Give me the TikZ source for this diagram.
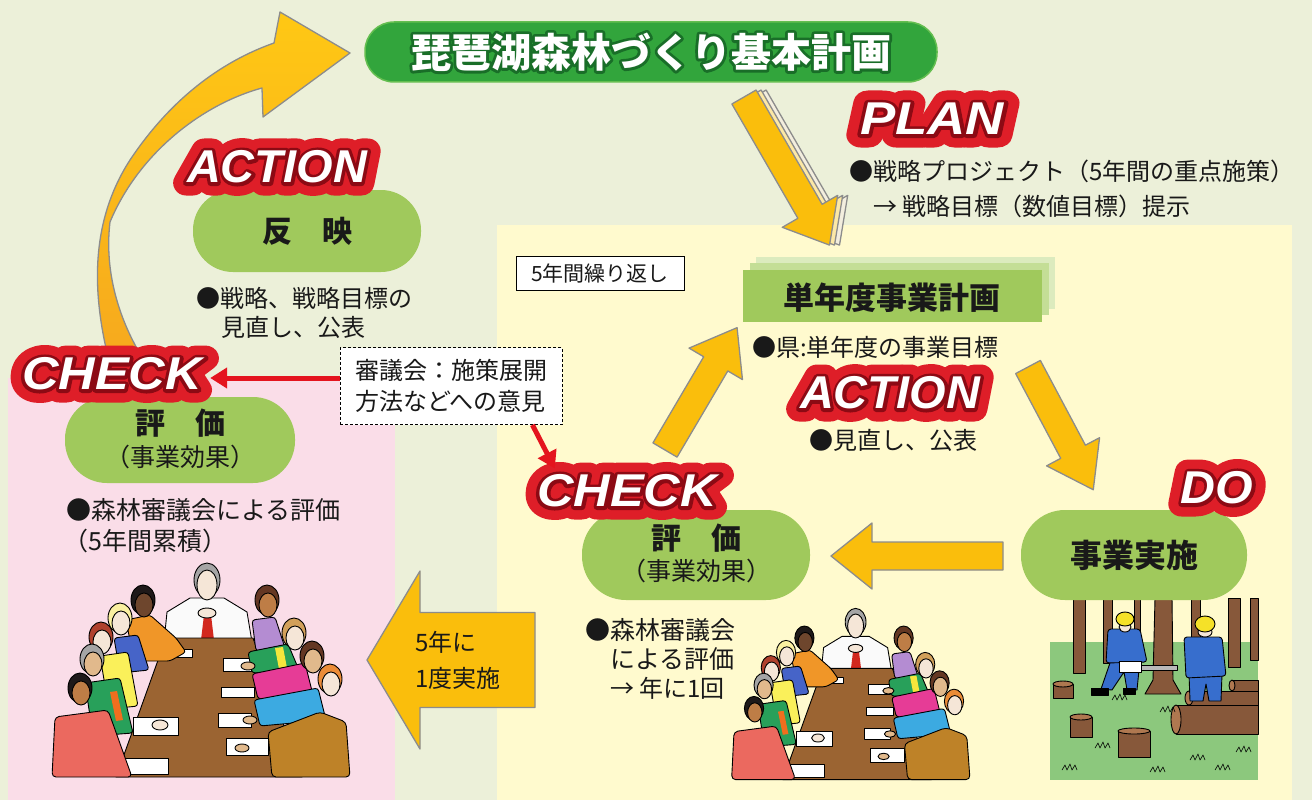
\documentclass[tikz,border=0pt]{standalone}
\usepackage{fontspec}
\setmainfont{Noto Sans CJK JP}
\newfontfamily\jpRing{Noto Sans CJK JP}[BoldFeatures={FakeBold=14}]
\newfontfamily\pdcaRing{Liberation Sans}[BoldItalicFeatures={FakeBold=55}]
\newfontfamily\pdcaEdge{Liberation Sans}[BoldItalicFeatures={FakeBold=14}]
\newfontfamily\pdcaFace{Liberation Sans}
\usetikzlibrary{arrows.meta}

% round joins for the stroked (fake bold) lettering
\newcommand{\roundstroke}{\special{pdf:literal direct 1 j 1 J}}

% page and panel colours
\definecolor{bgcol}{RGB}{236,240,217}
\definecolor{pinkcol}{RGB}{250,221,232}
\definecolor{yelcol}{RGB}{255,250,206}
\definecolor{pillcol}{RGB}{160,201,92}
\definecolor{titlecol}{RGB}{50,165,60}
\definecolor{titleedge}{RGB}{100,190,80}
\definecolor{titlering}{RGB}{25,110,40}
\definecolor{arrowfill}{RGB}{250,190,12}
\definecolor{arrowedge}{RGB}{140,140,140}
\definecolor{planmid}{RGB}{252,232,165}
\definecolor{planback}{RGB}{243,238,222}
\definecolor{pdcared}{RGB}{222,30,40}
\definecolor{pdcadark}{RGB}{140,10,20}
\definecolor{redline}{RGB}{228,20,30}
\definecolor{inkcol}{RGB}{25,25,25}
\definecolor{layermid}{RGB}{196,222,150}
\definecolor{layerback}{RGB}{220,235,190}
% clip-art colours
\definecolor{tablebrown}{RGB}{155,100,50}
\definecolor{shirtwhite}{RGB}{250,250,250}
\definecolor{tiered}{RGB}{210,40,30}
\definecolor{skinpale}{RGB}{245,230,215}
\definecolor{skintan}{RGB}{225,185,140}
\definecolor{skinbrown}{RGB}{190,125,70}
\definecolor{skindark}{RGB}{110,70,45}
\definecolor{hairblack}{RGB}{30,25,25}
\definecolor{hairblond}{RGB}{250,240,160}
\definecolor{hairred}{RGB}{175,65,45}
\definecolor{hairgray}{RGB}{165,165,165}
\definecolor{hairbrown}{RGB}{100,55,35}
\definecolor{hairsand}{RGB}{210,160,90}
\definecolor{hairorange}{RGB}{235,140,55}
\definecolor{coatorange}{RGB}{240,150,40}
\definecolor{coatblue}{RGB}{70,100,200}
\definecolor{coatyellow}{RGB}{250,240,90}
\definecolor{coatgreen}{RGB}{40,160,90}
\definecolor{coatsalmon}{RGB}{235,105,95}
\definecolor{coatpurple}{RGB}{180,140,210}
\definecolor{coatpink}{RGB}{230,60,150}
\definecolor{coatsky}{RGB}{60,170,225}
\definecolor{coatochre}{RGB}{190,130,40}
\definecolor{tieorange}{RGB}{240,110,30}
\definecolor{tieyellow}{RGB}{245,230,60}
\definecolor{grass}{RGB}{140,200,125}
\definecolor{trunk}{RGB}{135,88,58}
\definecolor{trunktop}{RGB}{175,120,80}
\definecolor{workblue}{RGB}{55,110,205}
\definecolor{helmet}{RGB}{245,225,40}

% a straight block arrow: start, angle, length, shaft half width, head half width, head length
\newcommand{\blockarrowshape}[7][]{%
  \begin{scope}[shift={#2},rotate=#3]
    \draw[blockarrow,#1] (0,-#5) -- ({#4-#7},-#5) -- ({#4-#7},-#6) -- (#4,0)
      -- ({#4-#7},#6) -- ({#4-#7},#5) -- (0,#5) -- cycle;
  \end{scope}}

% a seated person's head: x, y, hair colour, skin colour
\newcommand{\personhead}[4]{%
  \draw[ink, fill=#3] (#1,#2-2) ellipse [x radius=12pt, y radius=15pt];
  \draw[ink, fill=#4] (#1+1,#2+3) ellipse [x radius=9pt, y radius=12pt];}

% outlined lettering for the PDCA words: name, position, text, horizontal stretch
\newcommand{\pdcalabel}[4]{%
  \node[pdcaring, xscale=#4] (#1-ring) at #2 {#3};
  \node[pdcaedge, xscale=#4] (#1-edge) at #2 {#3};
  \node[pdcaface, xscale=#4] (#1) at #2 {#3};}

% committee meeting around a long table, in its own local frame
\newcommand{\meetingscene}{%
  % chairman at the head of the table
  \draw[ink, fill=shirtwhite] (144,82) -- (147,52) -- (170,38) -- (204,38) -- (227,52) -- (232,82) -- cycle;
  \fill[tiered] (184,55) -- (191,55) -- (194,80) -- (181,80) -- cycle;
  \draw[ink, fill=hairgray] (187,20) ellipse [x radius=13pt, y radius=17pt];
  \draw[ink, fill=skinpale] (187,25) ellipse [x radius=10pt, y radius=15pt];
  \draw[ink, fill=skinpale] (187,53) ellipse [x radius=9pt, y radius=5pt];
  % table
  \draw[ink, fill=tablebrown] (146,78) -- (233,78) -- (282,217) -- (96,217) -- cycle;
  % papers
  \foreach \a/\b/\c/\d in {143/89/172/97, 113/157/158/175, 100/198/148/214,
      203/98/231/111, 201/127/234/137, 198/153/231/167, 206/178/248/195}
    \draw[ink, fill=white] (\a,\b) rectangle (\c,\d);
  % left side, far to near
  \draw[ink, fill=coatorange, rounded corners=3pt] (106,60) -- (130,55) -- (156,78) -- (166,92) -- (150,101) -- (114,101) -- cycle;
  \personhead{123}{42}{hairblack}{skindark}
  \draw[ink, fill=coatblue, rounded corners=3pt] (94,78) -- (118,75) -- (129,110) -- (100,113) -- cycle;
  \personhead{100}{60}{hairblond}{skinpale}
  \draw[ink, fill=coatyellow, rounded corners=3pt] (80,96) -- (108,92) -- (118,146) -- (89,149) -- cycle;
  \personhead{81}{79}{hairred}{skinpale}
  \draw[ink, fill=coatgreen, rounded corners=3pt] (65,123) -- (100,118) -- (113,173) -- (73,176) -- cycle;
  \fill[tieorange] (90,132) -- (97,131) -- (103,160) -- (96,161) -- cycle;
  \personhead{72}{101}{hairgray}{skintan}
  \draw[ink, fill=skinpale] (140,165) ellipse [x radius=8pt, y radius=5pt];
  \draw[ink, fill=coatsalmon, rounded corners=4pt] (35,157) -- (88,150) -- (112,217) -- (32,217) -- cycle;
  \personhead{60}{130}{hairblack}{skinbrown}
  % right side, far to near
  \draw[ink, fill=coatpurple, rounded corners=3pt] (232,60) -- (255,57) -- (265,88) -- (236,91) -- cycle;
  \personhead{247}{42}{hairbrown}{skinbrown}
  \draw[ink, fill=coatgreen, rounded corners=3pt] (228,92) -- (268,84) -- (279,110) -- (232,113) -- cycle;
  \fill[tieyellow] (255,88) -- (263,87) -- (267,108) -- (259,109) -- cycle;
  \personhead{274}{75}{hairsand}{skinpale}
  \draw[ink, fill=coatpink, rounded corners=3pt] (232,114) -- (285,103) -- (293,135) -- (238,139) -- cycle;
  \personhead{292}{98}{hairbrown}{skintan}
  \draw[ink, fill=coatsky, rounded corners=3pt] (234,140) -- (298,128) -- (306,160) -- (240,166) -- cycle;
  \personhead{310}{121}{hairorange}{skinpale}
  \draw[ink, fill=coatochre, rounded corners=4pt] (248,172) -- (300,152) -- (326,162) -- (330,217) -- (252,217) -- cycle;
  \draw[ink, fill=skintan] (228,106) ellipse [x radius=7pt, y radius=4pt];
  \draw[ink, fill=skintan] (230,160) ellipse [x radius=7pt, y radius=4pt];
  \draw[ink, fill=skintan] (222,188) ellipse [x radius=7pt, y radius=4pt];}

\begin{document}
\begin{tikzpicture}[x=1pt,y=-1pt,
  ink/.style={draw=black, line width=0.9pt, line join=round},
  blockarrow/.style={fill=arrowfill, draw=arrowedge, line width=1.3pt, line join=round},
  pill/.style={fill=pillcol, inner sep=0pt},
  txt/.style={inner sep=0pt, text=inkcol, font=\fontsize{24}{30}\selectfont},
  pilltitle/.style={inner sep=0pt, text=inkcol, font=\bfseries\fontsize{30}{30}\selectfont},
  pillsub/.style={inner sep=0pt, text=inkcol, font=\fontsize{25}{25}\selectfont},
  pdcaring/.style={inner sep=0pt, text=pdcared, execute at begin node=\roundstroke,
    font=\pdcaRing\bfseries\itshape\fontsize{46}{46}\selectfont},
  pdcaedge/.style={inner sep=0pt, text=pdcadark, execute at begin node=\roundstroke,
    font=\pdcaEdge\bfseries\itshape\fontsize{46}{46}\selectfont},
  pdcaface/.style={inner sep=0pt, text=white, font=\pdcaFace\bfseries\itshape\fontsize{46}{46}\selectfont},
  redarrow/.style={draw=redline, line width=5pt, -{Triangle[length=17pt,width=20pt]}}]
\useasboundingbox (0,0) rectangle (1312,800);

% panels
\fill[bgcol] (0,0) rectangle (1312,800);
\fill[pinkcol] (8,378) rectangle (395,800);
\fill[yelcol] (497,225) rectangle (1292,800);

% big curved arrow from the five-year check back to the basic plan
\draw[draw=arrowedge, line width=1.3pt, line join=round,
      top color={rgb,255:red,255;green,200;blue,20}, bottom color={rgb,255:red,246;green,168;blue,30}]
  (112,372) .. controls (92,300) and (88,225) .. (130,160)
  .. controls (170,100) and (220,62) .. (274,43) -- (280,12) -- (350,53) -- (263,117) -- (262,88)
  .. controls (200,105) and (138,155) .. (110,222)
  .. controls (103,280) and (125,335) .. (152,372) -- cycle;

% PLAN arrow, drawn as a small stack of sheets
\blockarrowshape[fill=planback]{(754,97)}{-60}{171}{14}{32}{39}
\blockarrowshape[fill=planmid]{(749,97)}{-60}{171}{14}{32}{39}
\blockarrowshape{(744,97)}{-60}{171}{14}{32}{39}

% yearly cycle arrows
\blockarrowshape{(665,450)}{59.5}{142}{14}{31}{42}
\blockarrowshape{(1028,367)}{-62}{139}{14}{30}{43}
\blockarrowshape{(1003,556)}{180}{172}{14}{33}{41}
% five-year arrow
\blockarrowshape{(535,660)}{180}{168}{47.5}{89}{53}

% forest work scene
\fill[grass] (1050,642) rectangle (1258,780);
\foreach \a/\b/\c in {1073/1085/673, 1103/1112/663, 1134/1140/640, 1191/1200/647, 1228/1240/667, 1250/1258/660}
  \draw[ink, fill=trunk] (\a,598) rectangle (\b,\c);
\draw[ink, fill=trunk] (1155,598) -- (1172,598) -- (1173,680) -- (1181,694) -- (1145,694) -- (1153,680) -- cycle;
\foreach \x/\y/\w/\h in {1063/684/10/14, 1081/717/11/20, 1134/731/16/26}{
  \draw[ink, fill=trunk] (\x-\w,\y) rectangle (\x+\w,\y+\h);
  \draw[ink, fill=trunktop] (\x,\y) ellipse [x radius=\w pt, y radius=3pt];}
\draw[ink, fill=trunk] (1176,705) rectangle (1258,734);
\draw[ink, fill=trunktop] (1176,719.5) ellipse [x radius=5pt, y radius=14.5pt];
\draw[ink, fill=trunk] (1189,691) rectangle (1258,705);
\draw[ink, fill=trunktop] (1189,698) ellipse [x radius=4pt, y radius=7pt];
\draw[ink, fill=trunk] (1232,680) rectangle (1258,691);
\draw[ink, fill=trunktop] (1232,685.5) ellipse [x radius=3pt, y radius=5.5pt];
% worker with chainsaw
\draw[ink, fill=workblue] (1111,660) -- (1140,660) -- (1137,690) -- (1127,690) -- (1124,672) -- (1112,690) -- (1101,689) -- cycle;
\draw[ink, fill=black] (1091,688) rectangle (1108,695);
\draw[ink, fill=black] (1123,688) rectangle (1135,694);
\draw[ink, fill=workblue, rounded corners=3pt] (1108,629) -- (1140,629) -- (1147,662) -- (1106,663) -- cycle;
\draw[ink, fill=skinpale] (1125,627) ellipse [x radius=6pt, y radius=5pt];
\draw[ink, fill=helmet] (1125,619) ellipse [x radius=9pt, y radius=7pt];
\draw[ink, fill=gray!55] (1140,665) rectangle (1177,670);
\draw[ink, fill=white] (1119,661) rectangle (1141,672);
% worker seen from behind
\draw[ink, fill=workblue] (1189,674) -- (1222,674) -- (1221,701) -- (1209,701) -- (1206,684) -- (1203,701) -- (1190,701) -- cycle;
\draw[ink, fill=workblue, rounded corners=3pt] (1184,637) -- (1222,637) -- (1226,676) -- (1186,678) -- cycle;
\draw[ink, fill=skinpale] (1205,632) ellipse [x radius=7pt, y radius=5pt];
\draw[ink, fill=helmet] (1205,624) ellipse [x radius=10pt, y radius=8pt];
% grass tufts
\foreach \x/\y in {1062/770, 1095/748, 1112/700, 1160/712, 1190/760, 1215/770, 1236/752, 1150/772}
  \draw[ink, line width=0.6pt] (\x,\y) -- ++(3,-5) -- ++(2,5) -- ++(3,-6) -- ++(2,6) -- ++(3,-5) -- ++(2,5);

% committee meetings
\begin{scope}[shift={(20,560)}]
  \meetingscene
\end{scope}
\begin{scope}[shift={(706,606)}, scale=0.8]
  \meetingscene
\end{scope}

% basic plan banner
\node[fill=titlecol, draw=titleedge, line width=1.5pt, rounded corners=29pt,
      minimum width=572pt, minimum height=60pt] (titlebar) at (651,52) {};
\node[inner sep=0pt, text=titlering, execute at begin node=\roundstroke,
      font=\jpRing\bfseries\fontsize{40}{40}\selectfont] (titletext-ring) at (651,52) {琵琶湖森林づくり基本計画};
\node[inner sep=0pt, text=white, font=\bfseries\fontsize{40}{40}\selectfont] (titletext) at (651,52) {琵琶湖森林づくり基本計画};

% green stages
\node[pill, rounded corners=40pt, minimum width=228pt, minimum height=82pt] (reflect) at (307,231) {};
\node[pilltitle] (reflect-text) at (307,231) {反　映};

\node[pill, rounded corners=42pt, minimum width=230pt, minimum height=86pt] (evalL) at (180,440) {};
\node[pilltitle] (evalL-title) at (180,423) {評　価};
\node[pillsub] (evalL-sub) at (180,457) {（事業効果）};

\node[pill, rounded corners=44pt, minimum width=228pt, minimum height=90pt] (evalR) at (696,555) {};
\node[pilltitle] (evalR-title) at (696,538) {評　価};
\node[pillsub] (evalR-sub) at (696,571) {（事業効果）};

\node[pill, rounded corners=44pt, minimum width=226pt, minimum height=90pt] (doit) at (1134,555) {};
\node[inner sep=0pt, text=inkcol, font=\bfseries\fontsize{32}{32}\selectfont] (doit-text) at (1134,555) {事業実施};

\fill[layerback] (756,257) rectangle (1055,309);
\fill[layermid] (750,263) rectangle (1049,315);
\node[fill=pillcol, minimum width=299pt, minimum height=52pt, inner sep=0pt] (yearplan) at (892,296) {};
\node[inner sep=0pt, text=inkcol, font=\bfseries\fontsize{31}{31}\selectfont] (yearplan-text) at (892,298) {単年度事業計画};

% boxed notes
\node[draw=black, fill=white, line width=1pt, minimum width=168pt, minimum height=34pt, inner sep=0pt,
      font=\fontsize{21}{21}\selectfont, text=inkcol] (repeat5) at (600,273) {5年間繰り返し};
\node[draw=black, fill=white, line width=0.9pt, dash pattern=on 3pt off 2pt, minimum width=222pt, minimum height=77pt,
      inner sep=0pt, align=left, font=\fontsize{24}{31}\selectfont, text=inkcol] (opinion) at (451,386) {審議会：施策展開\\方法などへの意見};

% explanatory text
\node[txt, anchor=west] (reflect-note1) at (196,298) {●戦略、戦略目標の};
\node[txt, anchor=west] (reflect-note2) at (221,327) {見直し、公表};
\node[txt, anchor=west, font=\fontsize{25}{30}\selectfont] (evalL-note1) at (66,510) {●森林審議会による評価};
\node[txt, anchor=west, font=\fontsize{25}{30}\selectfont] (evalL-note2) at (63,541) {（5年間累積）};
\node[txt, anchor=west, font=\fontsize{25}{30}\selectfont] (evalR-note1) at (585,630) {●森林審議会};
\node[txt, anchor=west, font=\fontsize{25}{30}\selectfont] (evalR-note2) at (610,659) {による評価};
\node[txt, anchor=west] (evalR-note3) at (610,688) {→ 年に1回};
\node[txt, anchor=west] (plan-note1) at (849,171) {●戦略プロジェクト（5年間の重点施策）};
\node[txt, anchor=west] (plan-note2) at (873,206) {→ 戦略目標（数値目標）提示};
\node[txt, anchor=west] (yearplan-note) at (752,347) {●県:単年度の事業目標};
\node[txt] (action-note) at (893,440) {●見直し、公表};
\node[txt, anchor=west] (fiveyear-1) at (415,642) {5年に};
\node[txt, anchor=west] (fiveyear-2) at (415,678) {1度実施};

% PDCA words
\pdcalabel{actionL}{(277,167)}{ACTION}{1.02}
\pdcalabel{checkL}{(112,374)}{CHECK}{1.1}
\pdcalabel{plan}{(932,119)}{PLAN}{1.15}
\pdcalabel{actionR}{(890,393)}{ACTION}{1.02}
\pdcalabel{checkR}{(627,491)}{CHECK}{1.1}
\pdcalabel{doword}{(1217,488)}{DO}{1.05}

% council opinions feeding both checks
\coordinate (redA) at ([yshift=8pt]opinion.west);
\draw[redarrow] (redA) -- ([xshift=8pt]redA -| checkL-ring.east);
\coordinate (redB) at ([xshift=-30pt]opinion.south east);
\draw[redarrow] (redB) -- ([xshift=18pt,yshift=6pt]checkR-ring.north west);
\end{tikzpicture}
\end{document}
